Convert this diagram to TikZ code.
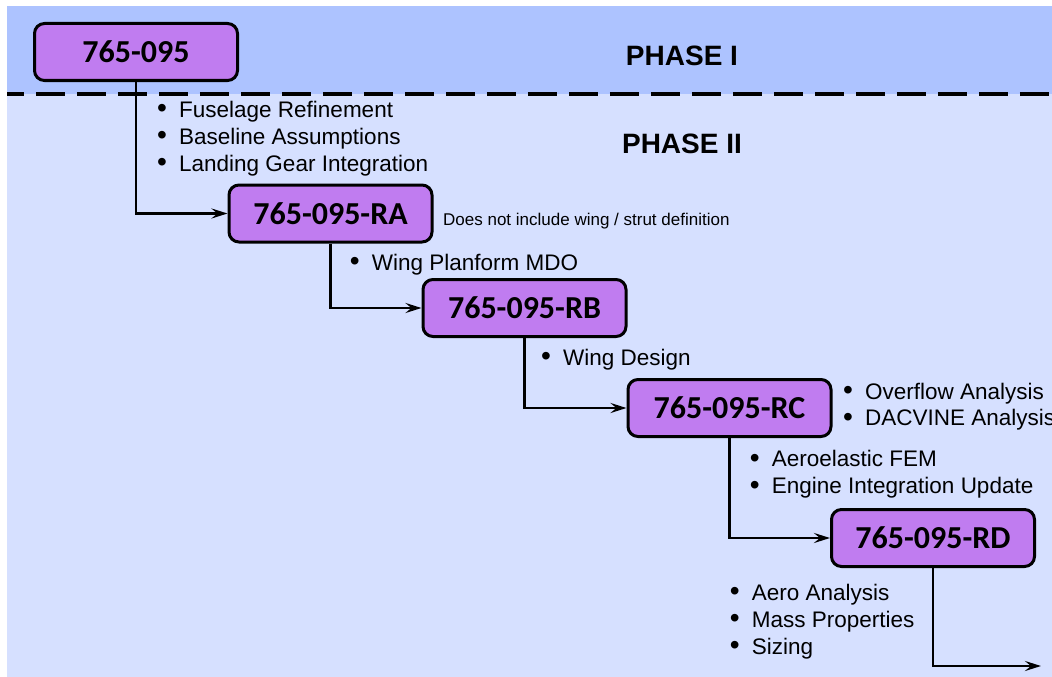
\documentclass[tikz,border=0pt]{standalone}
\usepackage{fontspec}
\setmainfont{Liberation Sans}
\newfontfamily\boxfont{Carlito}
\usetikzlibrary{arrows.meta}

\definecolor{phaseone}{RGB}{173,195,255}
\definecolor{phasetwo}{RGB}{214,224,255}
\definecolor{boxfill}{RGB}{192,124,240}

\newcommand\bline[3]{\node[btxt] (#1) at (#2) {\makebox[22pt][l]{\raisebox{-0.5pt}{\scalebox{1.25}{\textbullet}}}#3};}

\begin{document}
\begin{tikzpicture}[x=1pt,y=-1pt,
  verbox/.style={draw=black, line width=3pt, fill=boxfill, rounded corners=10pt,
    minimum width=203pt, minimum height=57pt, inner sep=0pt,
    font=\boxfont\bfseries\fontsize{32}{36}\selectfont},
  conn/.style={line width=2.5pt, -{Stealth[length=16pt,width=10pt,inset=6pt]}},
  phaselbl/.style={font=\bfseries\fontsize{28}{32}\selectfont, anchor=base, inner sep=0pt},
  btxt/.style={font=\fontsize{22.5}{26}\selectfont, anchor=base west, inner sep=0pt},
  note/.style={font=\fontsize{17}{20}\selectfont, anchor=base west, inner sep=0pt}]

\useasboundingbox (0,0) rectangle (1052,677);
\clip (0,0) rectangle (1052,677);

% phase bands
\fill[phaseone] (7,6) rectangle (1052,94);
\fill[phasetwo] (7,94) rectangle (1052,677);
\draw[line width=4pt, dash pattern=on 29pt off 12pt, dash phase=12.2pt] (7,94) -- (1052,94);

\node[phaselbl] (ph1) at (682,66) {PHASE I};
\node[phaselbl] (ph2) at (682,153) {PHASE II};

% configuration boxes
\node[verbox] (p0) at (136,52) {765-095};
\node[verbox] (pa) at (330.5,213.5) {765-095-RA};
\node[verbox] (pb) at (524.5,308) {765-095-RB};
\node[verbox] (pc) at (729.5,408) {765-095-RC};
\node[verbox] (pd) at (933,538) {765-095-RD};
\coordinate (out) at (1041,666);

% connectors
\draw[conn] (p0.south) |- (pa.west);
\draw[conn] (pa.south) |- (pb.west);
\draw[conn] (pb.south) |- (pc.west);
\draw[conn] (pc.south) |- (pd.west);
\draw[conn] (pd.south) |- (out);

% notes
\bline{f1}{157,117.3}{Fuselage Refinement}
\bline{f2}{157,144.3}{Baseline Assumptions}
\bline{f3}{157,171.3}{Landing Gear Integration}
\node[note] (ranote) at (443,225) {Does not include wing / strut definition};
\bline{a1}{349.7,270}{Wing Planform MDO}
\bline{b1}{541,365}{Wing Design}
\bline{c1}{843,399.3}{Overflow Analysis}
\bline{c2}{843,425.5}{DACVINE Analysis}
\bline{c3}{749.7,466.7}{Aeroelastic FEM}
\bline{c4}{749.7,493.7}{Engine Integration Update}
\bline{d1}{729.7,600}{Aero Analysis}
\bline{d2}{729.7,627.3}{Mass Properties}
\bline{d3}{729.7,654.3}{Sizing}
\end{tikzpicture}
\end{document}
